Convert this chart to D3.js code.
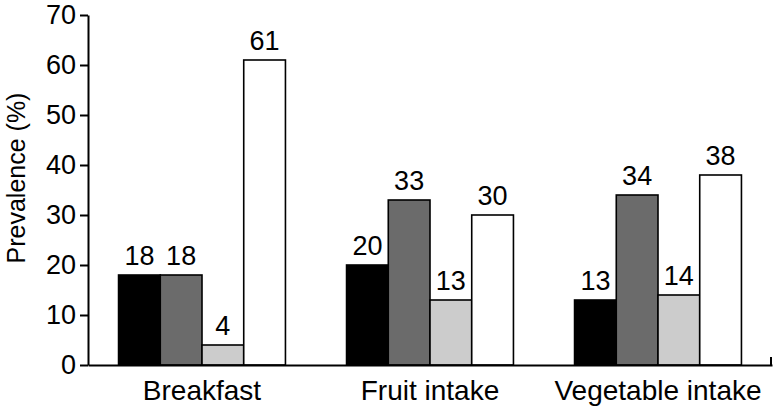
<!DOCTYPE html>
<html><head><meta charset="utf-8">
<script src="https://cdn.jsdelivr.net/npm/d3@7"></script>
<style>body{margin:0;background:#fff}svg{display:block}text{font-family:"Liberation Sans",Arial,sans-serif}</style>
</head><body><svg id="c" width="773" height="410"></svg>
<script>
const categories = ["Breakfast", "Fruit intake", "Vegetable intake"];
const seriesNames = ["s1", "s2", "s3", "s4"];
const seriesColors = ["#000000", "#6b6b6b", "#cccccc", "#ffffff"];
const valuesS1 = [18, 20, 13];
const valuesS2 = [18, 33, 34];
const valuesS3 = [4, 13, 14];
const valuesS4 = [61, 30, 38];
const yTicks = [0, 10, 20, 30, 40, 50, 60, 70];
const allSeries = [valuesS1, valuesS2, valuesS3, valuesS4];

(function () {
const svg = d3.select("#c");
const mLeft = 88, mRight = 772, mTop = 15, mBottom = 365;
const x = d3.scaleBand().domain(categories).range([mLeft, mRight]).paddingInner(0.268).paddingOuter(0.134);
const xs = d3.scaleBand().domain(seriesNames).range([0, x.bandwidth()]);
const y = d3.scaleLinear().domain([0, 70]).range([mBottom, mTop]);

// bars
categories.forEach((c, ci) => {
  seriesNames.forEach((s, si) => {
    const v = allSeries[si][ci];
    svg.append("rect")
      .attr("x", x(c) + xs(s)).attr("y", y(v))
      .attr("width", xs.bandwidth()).attr("height", y(0) - y(v))
      .attr("fill", seriesColors[si]).attr("stroke", "#000").attr("stroke-width", 1.6);
    svg.append("text")
      .attr("x", x(c) + xs(s) + xs.bandwidth() / 2).attr("y", y(v) - 10)
      .attr("text-anchor", "middle").attr("font-size", 27).attr("fill", "#000")
      .text(v);
  });
});

// y axis
const yAxis = d3.axisLeft(y).tickValues(yTicks).tickSize(8).tickSizeOuter(0).tickPadding(4);
const gy = svg.append("g").attr("transform", `translate(${mLeft},0)`).call(yAxis);
gy.select(".domain").attr("stroke-width", 2);
gy.selectAll(".tick line").attr("stroke-width", 2);
gy.selectAll(".tick text").attr("font-size", 27).attr("font-family", "Liberation Sans, Arial, sans-serif").attr("fill", "#000");

// x axis
const xAxis = d3.axisBottom(x).tickSize(0).tickPadding(15.5);
const gx = svg.append("g").attr("transform", `translate(0,${mBottom})`).call(xAxis);
gx.select(".domain").attr("stroke-width", 2);
gx.selectAll(".tick text").attr("font-size", 28).attr("dy", "0.69em").attr("font-family", "Liberation Sans, Arial, sans-serif").attr("fill", "#000");
svg.append("line").attr("x1", mRight - 1).attr("x2", mRight - 1).attr("y1", mBottom).attr("y2", mBottom - 8)
  .attr("stroke", "#000").attr("stroke-width", 2);

// y title
svg.append("text").attr("transform", `translate(25,178) rotate(-90)`)
  .attr("text-anchor", "middle").attr("font-size", 25).attr("fill", "#000").text("Prevalence (%)");
})();
</script></body></html>
